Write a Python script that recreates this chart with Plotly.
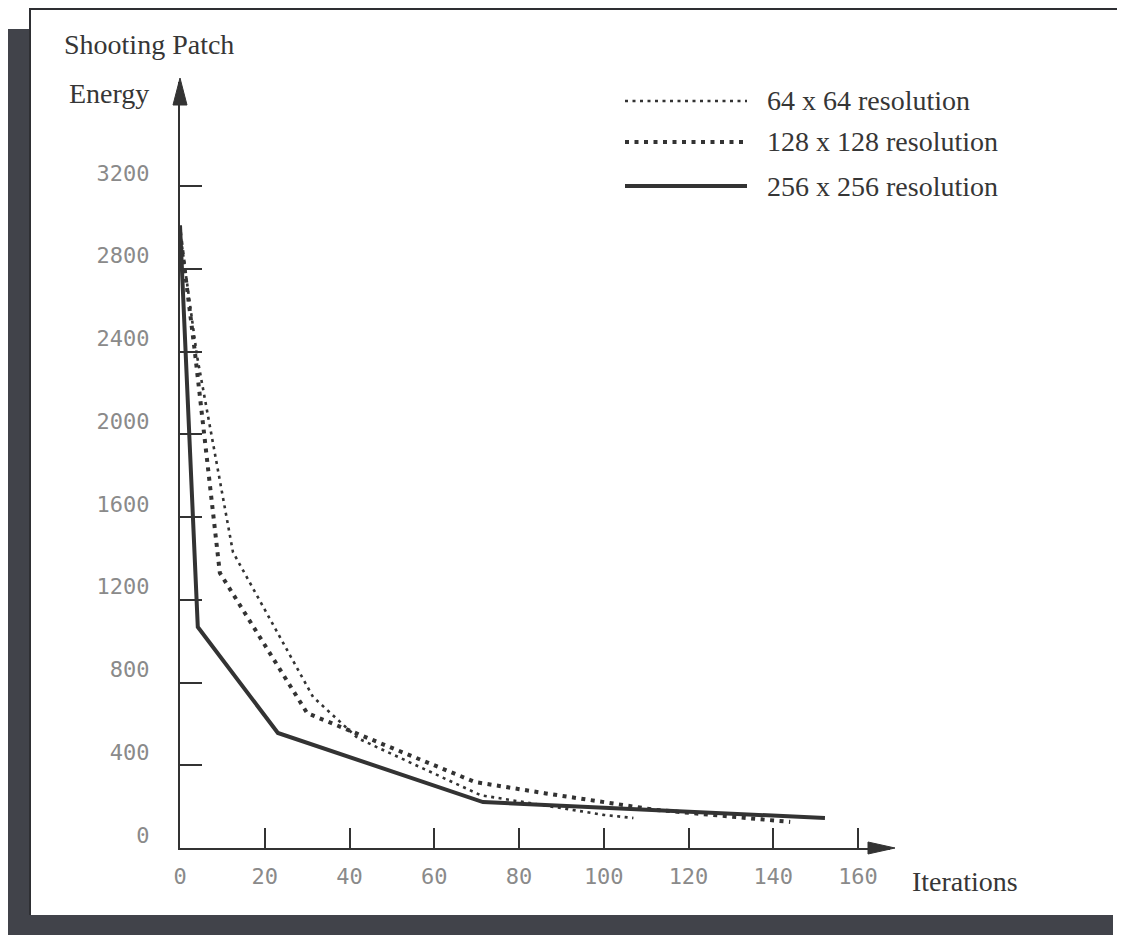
import plotly.graph_objects as go

# ---------------- data ----------------
x_64 = [0, 4, 12.5, 31.4, 42, 71, 100, 107]
y_64 = [2980, 2380, 1430, 730, 530, 255, 160, 145]

x_128 = [0, 3.5, 9.4, 30, 69.6, 86, 112, 144]
y_128 = [2980, 2400, 1330, 652, 319, 265, 185, 126]

x_256 = [0, 4.2, 23.1, 71.5, 152.2]
y_256 = [3010, 1068, 556, 222, 145]

series_names = ["64 x 64 resolution", "128 x 128 resolution", "256 x 256 resolution"]

x_ticks = [0, 20, 40, 60, 80, 100, 120, 140, 160]
y_ticks = [0, 400, 800, 1200, 1600, 2000, 2400, 2800, 3200]

# ---------------- geometry ----------------
W, H = 1125, 935
OFF = 8  # page body margin
L, T = 180 - OFF, 82 - OFF
R = W - (890 - OFF)
B = H - (848 - OFF)
PW, PH = W - L - R, H - T - B
X_MAX = PW / 4.2375
Y_MAX = PH / 0.206875


def px(xp):
    return (xp - OFF - L) / PW


def py(yp):
    return (H - B - (yp - OFF)) / PH


INK = "#333333"
styles = [
    dict(color=INK, width=2.6, dash="3px,4.5px"),
    dict(color=INK, width=4, dash="4px,5.5px"),
    dict(color=INK, width=4, dash="solid"),
]

fig = go.Figure()
for xs, ys, nm, st in zip([x_64, x_128, x_256], [y_64, y_128, y_256], series_names, styles):
    fig.add_trace(go.Scatter(x=xs, y=ys, mode="lines", name=nm, line=st, showlegend=False))

tick_font = dict(family="DejaVu Sans Mono", size=22, color="#8a8a8a")
fig.update_xaxes(range=[0, X_MAX], showline=True, linecolor=INK, linewidth=2,
                 ticks="inside", ticklen=20, tickwidth=2, tickcolor=INK,
                 tickvals=x_ticks, ticktext=[str(v) for v in x_ticks],
                 showgrid=False, zeroline=False, tickfont=tick_font,
                 ticklabelstandoff=8)
fig.update_yaxes(range=[0, Y_MAX], showline=True, linecolor=INK, linewidth=2,
                 ticks="inside", ticklen=22, tickwidth=2, tickcolor=INK,
                 tickvals=y_ticks, ticktext=[str(v) for v in y_ticks],
                 showgrid=False, zeroline=False, tickfont=tick_font,
                 ticklabelstandoff=24, ticklabelshift=-13)

shapes = []
# arrowheads at axis ends
shapes.append(dict(type="path", xref="paper", yref="paper", xsizemode="pixel", ysizemode="pixel",
                   xanchor=0, yanchor=1, path="M-7,-23 L0,4 L7,-23 Z",
                   fillcolor=INK, line=dict(color=INK, width=1)))
shapes.append(dict(type="path", xref="paper", yref="paper", xsizemode="pixel", ysizemode="pixel",
                   xanchor=1, yanchor=0, path="M-22,-6 L5,0 L-22,6 Z",
                   fillcolor=INK, line=dict(color=INK, width=1)))
# paper frame + shadow
SHADOW = "#41434a"
shapes.append(dict(type="rect", xref="paper", yref="paper", x0=px(8), x1=px(30), y0=py(29), y1=py(940),
                   fillcolor=SHADOW, line=dict(width=0), layer="below"))
shapes.append(dict(type="rect", xref="paper", yref="paper", x0=px(8), x1=px(1113), y0=py(915), y1=py(940),
                   fillcolor=SHADOW, line=dict(width=0), layer="below"))
shapes.append(dict(type="line", xref="paper", yref="paper", x0=px(29), x1=px(1118), y0=py(9), y1=py(9),
                   line=dict(color="#2e2f33", width=2)))
shapes.append(dict(type="line", xref="paper", yref="paper", x0=px(30), x1=px(30), y0=py(9), y1=py(915),
                   line=dict(color="#2e2f33", width=2)))
# legend
leg_rows = [101, 142, 186]
for st, yr in zip(styles, leg_rows):
    shapes.append(dict(type="line", xref="paper", yref="paper", x0=px(625), x1=px(747),
                       y0=py(yr), y1=py(yr), line=st))
fig.update_layout(shapes=shapes)

txt_font = dict(family="Liberation Serif", size=28, color="#363636")
ann = [
    dict(text="Shooting Patch", x=px(62), y=py(44), xanchor="left", yanchor="middle"),
    dict(text="Energy", x=px(67), y=py(93), xanchor="left", yanchor="middle"),
    dict(text="Iterations", x=px(910), y=py(882), xanchor="left", yanchor="middle"),
]
for nm, yr in zip(series_names, leg_rows):
    ann.append(dict(text=nm, x=px(765), y=py(yr), xanchor="left", yanchor="middle"))
for a in ann:
    a.update(xref="paper", yref="paper", showarrow=False, font=txt_font)
fig.update_layout(annotations=ann)

fig.update_layout(width=W, height=H, margin=dict(l=L, r=R, t=T, b=B),
                  plot_bgcolor="white", paper_bgcolor="white", showlegend=False)

fig.write_html("out.html")
